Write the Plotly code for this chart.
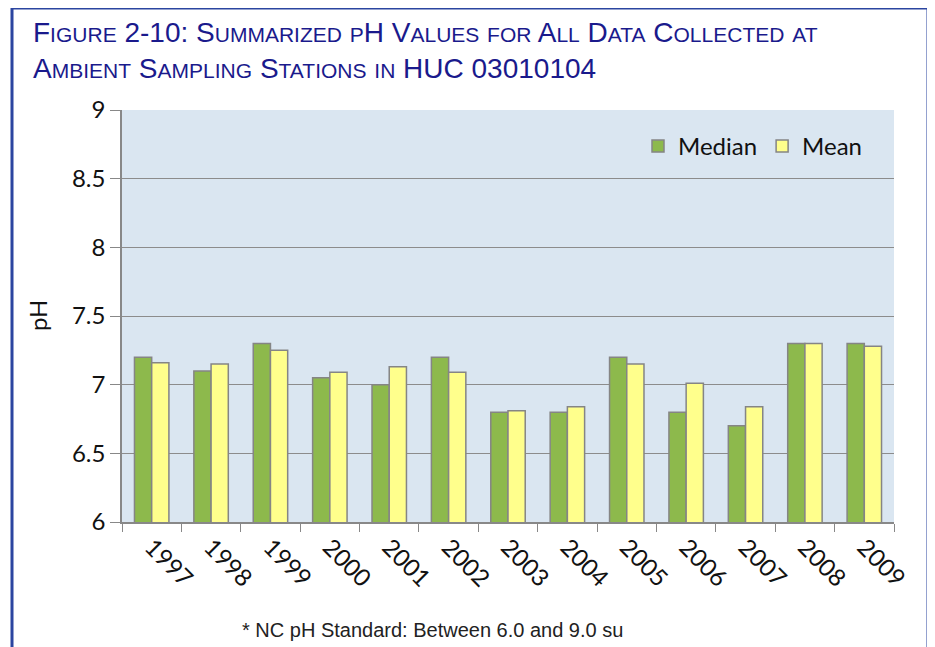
import plotly.graph_objects as go

years = ["1997", "1998", "1999", "2000", "2001", "2002", "2003",
         "2004", "2005", "2006", "2007", "2008", "2009"]
median_ph = [7.2, 7.1, 7.3, 7.05, 7.0, 7.2, 6.8, 6.8, 7.2, 6.8, 6.7, 7.3, 7.3]
mean_ph = [7.16, 7.15, 7.25, 7.09, 7.13, 7.09, 6.81, 6.84, 7.15, 7.01, 6.84, 7.3, 7.28]
y_ticks = [6, 6.5, 7, 7.5, 8, 8.5, 9]
y_tick_labels = ["6", "6.5", "7", "7.5", "8", "8.5", "9"]

# page body adds an 8px offset; work in screen pixels and shift back
OFF = 8
W, H = 935, 647
L, R, T, B = 122 - OFF, 935 - 894 + OFF, 110 - OFF, 647 - 522 + OFF
pw, ph = W - L - R, H - T - B

def px(x):
    return (x - OFF - L) / pw

def py(y):
    return (H - B - (y - OFF)) / ph

def smallcaps(text, small=21):
    out = []
    for word in text.split(" "):
        parts = []
        for ch in word:
            if ch.islower():
                parts.append(f"<span style='font-size:{small}px'>{ch.upper()}</span>")
            else:
                parts.append(ch)
        out.append("".join(parts))
    return " ".join(out)

fig = go.Figure()
fig.add_trace(go.Bar(
    x=years, y=median_ph, name="Median",
    marker=dict(color="#8DB94C", line=dict(color="#858585", width=1.5)),
))
fig.add_trace(go.Bar(
    x=years, y=mean_ph, name="Mean",
    marker=dict(color="#FFFF8C", line=dict(color="#858585", width=1.5)),
))

title_font = "Liberation Sans Narrow, Arial Narrow, Liberation Sans, sans-serif"
line1 = smallcaps("Figure 2-10: Summarized pH Values for All Data Collected at")
line2 = smallcaps("Ambient Sampling Stations in HUC 03010104")
fig.add_annotation(text=line1, xref="paper", yref="paper", x=px(31), y=py(50),
                   xanchor="left", yanchor="bottom", showarrow=False,
                   font=dict(family=title_font, size=28, color="#1A1A8C"))
fig.add_annotation(text=line2, xref="paper", yref="paper", x=px(31), y=py(86),
                   xanchor="left", yanchor="bottom", showarrow=False,
                   font=dict(family=title_font, size=28, color="#1A1A8C"))
fig.add_annotation(text="* NC pH Standard: Between 6.0 and 9.0 su", xref="paper", yref="paper",
                   x=px(432), y=py(630), xanchor="center", yanchor="middle", showarrow=False,
                   font=dict(family=title_font, size=20, color="#222222"))
fig.add_annotation(text="pH", xref="paper", yref="paper", x=px(37), y=py(316),
                   xanchor="center", yanchor="middle", showarrow=False, textangle=-90,
                   font=dict(family="Lato, Open Sans, sans-serif", size=24, color="#111111"))

# outer frame
fig.add_shape(type="path", xref="paper", yref="paper",
              path=f"M {px(12)},{py(720)} L {px(12)},{py(8)} L {px(928)},{py(8)} L {px(928)},{py(720)}",
              line=dict(color="#2B45A0", width=3))

fig.update_layout(
    width=W, height=H,
    margin=dict(l=L, r=R, t=T, b=B),
    paper_bgcolor="white",
    plot_bgcolor="#DAE6F1",
    barmode="group",
    bargap=0.42,
    bargroupgap=0.0,
    font=dict(family="Lato, Open Sans, sans-serif", size=24, color="#111111"),
    legend=dict(orientation="h", x=px(868), y=py(124), xanchor="right", yanchor="top",
                bgcolor="rgba(0,0,0,0)", font=dict(size=24),
                itemwidth=30, traceorder="normal"),
    xaxis=dict(
        type="category", tickangle=45, tickson="boundaries",
        ticks="outside", ticklen=8, tickcolor="#888888",
        showline=True, linecolor="#888888", linewidth=1.5,
        showgrid=False, tickfont=dict(size=24),
    ),
    yaxis=dict(
        range=[6, 9], tickvals=y_ticks, ticktext=y_tick_labels,
        ticks="outside", ticklen=10, tickcolor="#888888",
        showline=True, linecolor="#888888", linewidth=1.5,
        showgrid=True, gridcolor="#8C8C8C", gridwidth=1.2,
        tickfont=dict(size=24), zeroline=False,
    ),
)

fig.write_html("out.html")
